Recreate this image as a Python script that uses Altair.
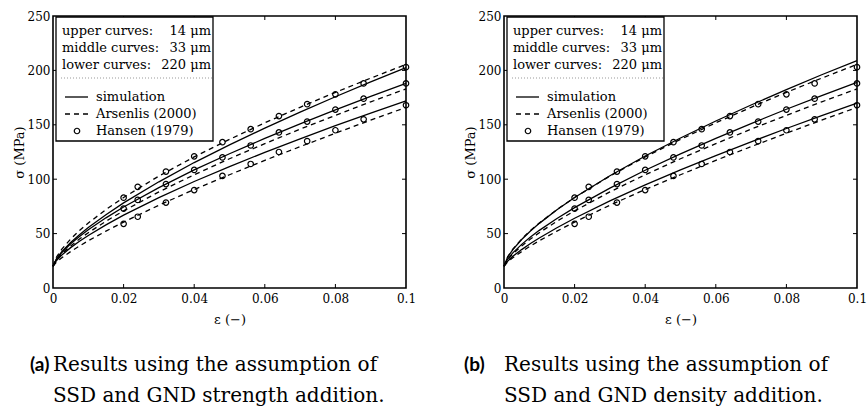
import altair as alt
import pandas as pd

# ---------------- data ----------------
EPS_GRID = [0, 0.001, 0.0025, 0.005, 0.0075, 0.01, 0.015, 0.02, 0.03, 0.04,
            0.05, 0.06, 0.07, 0.08, 0.09, 0.1]

# panel (a): simulation, strength addition
SIM_A_UPPER = [20, 26.9, 33.3, 41.8, 49.0, 55.6, 67.4, 78.2, 97.6, 115.3, 131.6, 147.0, 161.7, 175.8, 189.4, 202.5]
SIM_A_MIDDLE = [20, 26.7, 32.7, 40.6, 47.4, 53.5, 64.5, 74.5, 92.3, 108.5, 123.4, 137.5, 150.9, 163.7, 176.1, 188]
SIM_A_LOWER = [20, 25.3, 30.3, 37.1, 42.9, 48.3, 58.0, 67.0, 83.1, 97.9, 111.6, 124.7, 137.1, 149.2, 160.8, 172]

# panel (b): simulation, density addition
SIM_B_UPPER = [20, 28.2, 35.3, 44.6, 52.4, 59.4, 71.9, 83.2, 103.2, 121.3, 137.9, 153.5, 168.2, 182.4, 196.0, 209]
SIM_B_MIDDLE = [20, 26.4, 32.3, 40.1, 46.9, 53.0, 63.9, 73.9, 91.8, 108.2, 123.3, 137.6, 151.1, 164.3, 176.8, 189]
SIM_B_LOWER = [20, 24.5, 29.1, 35.3, 40.9, 46.0, 55.4, 64.1, 80.0, 94.7, 108.5, 121.7, 134.3, 146.6, 158.5, 170]

# Arsenlis (2000) model (dashed)
ARS_UPPER = [20, 28.5, 35.7, 45.0, 52.8, 59.7, 72.1, 83.2, 102.9, 120.5, 136.6, 151.8, 166.1, 179.8, 192.9, 205.5]
ARS_MIDDLE = [20, 25.8, 31.3, 38.7, 45.1, 50.8, 61.4, 70.9, 88.3, 104.1, 118.8, 132.7, 146.0, 158.7, 171.1, 183]
ARS_LOWER = [20, 23.8, 27.8, 33.5, 38.6, 43.4, 52.3, 60.6, 76.1, 90.5, 104.1, 117.3, 129.9, 142.3, 154.3, 166]

# Hansen (1979) experiments (circles)
EPS_EXP = [0.02, 0.024, 0.032, 0.04, 0.048, 0.056, 0.064, 0.072, 0.08, 0.088, 0.1]
HANSEN_UPPER = [83, 93, 107, 121, 134, 146, 158, 169, 178, 188, 203]
HANSEN_MIDDLE = [73, 81, 95.5, 108.5, 120, 131, 143, 153, 164, 174, 188]
HANSEN_LOWER = [59, 65.5, 78.5, 90, 103, 114, 125, 135, 145, 155, 168]

SIZES = ["14", "33", "220"]
HEADER_NAMES = ["upper curves:", "middle curves:", "lower curves:"]
HEADER_VALUES = ["14 μm", "33 μm", "220 μm"]
LEGEND_NAMES = ["simulation", "Arsenlis (2000)", "Hansen (1979)"]
TAGS = ["(a)", "(b)"]
CAPTIONS = [["Results using the assumption of", "SSD and GND strength addition."],
            ["Results using the assumption of", "SSD and GND density addition."]]
X_TICKS = [0, 0.02, 0.04, 0.06, 0.08, 0.1]
Y_TICKS = [0, 50, 100, 150, 200, 250]
X_INNER = [0.02, 0.04, 0.06, 0.08]
Y_INNER = [50, 100, 150, 200]
X_TITLE = "ε (−)"
Y_TITLE = "σ (MPa)"

# ---------------- layout constants ----------------
W, H = 353, 272
SERIF = "DejaVu Serif"
SANS = "Lato"
TICK = 4


def curves_df(sim_list):
    rows = []
    for size, sim, ars in zip(SIZES, sim_list, [ARS_UPPER, ARS_MIDDLE, ARS_LOWER]):
        for e, s in zip(EPS_GRID, sim):
            rows.append({"eps": e, "sigma": s, "curve": size, "model": "simulation"})
        for e, s in zip(EPS_GRID, ars):
            rows.append({"eps": e, "sigma": s, "curve": size, "model": "Arsenlis"})
    return pd.DataFrame(rows)


hansen_df = pd.DataFrame([
    {"eps": e, "sigma": s, "curve": size}
    for size, arr in zip(SIZES, [HANSEN_UPPER, HANSEN_MIDDLE, HANSEN_LOWER])
    for e, s in zip(EPS_EXP, arr)
])


def text_layer(txt, x, y, size=13, align="left", font=SERIF, weight="normal", baseline="middle"):
    return alt.Chart(pd.DataFrame({"t": [txt]})).mark_text(
        align=align, baseline=baseline, font=font, fontSize=size,
        fontWeight=weight, color="black"
    ).encode(text="t:N", x=alt.value(x), y=alt.value(y))


def panel(sim_list, tag, lines, tag_x):
    xs = alt.Scale(domain=[0, 0.1], nice=False, zero=False)
    ys = alt.Scale(domain=[0, 250], nice=False, zero=False)
    base = alt.Chart(curves_df(sim_list))

    sim = base.transform_filter(alt.datum.model == "simulation").mark_line(
        color="black", strokeWidth=1.3
    ).encode(
        x=alt.X("eps:Q", scale=xs, axis=alt.Axis(values=X_TICKS, format="~g", title=X_TITLE,
                                                 labelFlush=False, labelPadding=5, titlePadding=9)),
        y=alt.Y("sigma:Q", scale=ys, axis=alt.Axis(values=Y_TICKS, title=Y_TITLE, labelFlush=False,
                                                   labelPadding=3, titleX=-34, titleY=H / 2,
                                                   titleAlign="center", titleBaseline="middle")),
        detail="curve:N",
    )
    ars = base.transform_filter(alt.datum.model == "Arsenlis").mark_line(
        color="black", strokeWidth=1.3, strokeDash=[5, 4]
    ).encode(
        x=alt.X("eps:Q", scale=xs),
        y=alt.Y("sigma:Q", scale=ys),
        detail="curve:N",
    )
    pts = alt.Chart(hansen_df).mark_point(
        shape="circle", filled=False, color="black", size=30, strokeWidth=1.2, opacity=1
    ).encode(
        x=alt.X("eps:Q", scale=xs),
        y=alt.Y("sigma:Q", scale=ys),
    )

    xt = pd.DataFrame({"eps": X_INNER})
    yt = pd.DataFrame({"sigma": Y_INNER})
    tick_b = alt.Chart(xt).mark_rule(color="black", strokeWidth=1).encode(
        x=alt.X("eps:Q", scale=xs), y=alt.value(H), y2=alt.value(H - TICK))
    tick_t = alt.Chart(xt).mark_rule(color="black", strokeWidth=1).encode(
        x=alt.X("eps:Q", scale=xs), y=alt.value(0), y2=alt.value(TICK))
    tick_l = alt.Chart(yt).mark_rule(color="black", strokeWidth=1).encode(
        y=alt.Y("sigma:Q", scale=ys), x=alt.value(0), x2=alt.value(TICK))
    tick_r = alt.Chart(yt).mark_rule(color="black", strokeWidth=1).encode(
        y=alt.Y("sigma:Q", scale=ys), x=alt.value(W), x2=alt.value(W - TICK))

    one = pd.DataFrame({"a": [0]})
    box = alt.Chart(one).mark_rect(fill="white", stroke="black", strokeWidth=1.3).encode(
        x=alt.value(3), x2=alt.value(160), y=alt.value(1), y2=alt.value(125))
    sep = alt.Chart(one).mark_rule(color="#999999", strokeWidth=1, strokeDash=[1, 2]).encode(
        x=alt.value(8), x2=alt.value(159), y=alt.value(62))

    layers = [sim, ars, pts, tick_b, tick_t, tick_l, tick_r, box, sep]

    for i, (nm, val) in enumerate(zip(HEADER_NAMES, HEADER_VALUES)):
        yy = 15 + 17 * i
        layers.append(text_layer(nm, 9, yy))
        layers.append(text_layer(val, 158, yy, align="right"))

    for i, nm in enumerate(LEGEND_NAMES):
        yy = 81 + 17 * i
        layers.append(text_layer(nm, 43, yy))
    layers.append(alt.Chart(one).mark_rule(color="black", strokeWidth=1.3).encode(
        x=alt.value(12), x2=alt.value(35), y=alt.value(81)))
    layers.append(alt.Chart(one).mark_rule(color="black", strokeWidth=1.3, strokeDash=[5, 4]).encode(
        x=alt.value(12), x2=alt.value(35), y=alt.value(98)))
    layers.append(alt.Chart(one).mark_point(shape="circle", filled=False, color="black", size=30,
                                            strokeWidth=1.2, opacity=1).encode(
        x=alt.value(24), y=alt.value(115)))

    # caption
    layers.append(text_layer(tag, tag_x, 355, size=19, font=SANS, weight="bold", baseline="alphabetic"))
    for j, ln in enumerate(lines):
        layers.append(text_layer(ln, 0, 355 + 31 * j, size=20, baseline="alphabetic"))

    return alt.layer(*layers).properties(width=W, height=H)


left = panel([SIM_A_UPPER, SIM_A_MIDDLE, SIM_A_LOWER], TAGS[0], CAPTIONS[0], -23)
right = panel([SIM_B_UPPER, SIM_B_MIDDLE, SIM_B_LOWER], TAGS[1], CAPTIONS[1], -40)

chart = alt.hconcat(left, right, spacing=46).properties(
    padding={"left": 12, "top": 9, "right": 0, "bottom": 0},
    background="white",
).configure_view(
    stroke="black", strokeWidth=1.6
).configure_axis(
    labelFont=SERIF, labelFontSize=12, labelColor="black",
    titleFont=SERIF, titleFontSize=13, titleFontWeight="normal", titleColor="black",
    ticks=False, tickSize=0, domain=False, grid=False,
)

chart.save("out.html", embed_options={"renderer": "svg", "actions": False})
